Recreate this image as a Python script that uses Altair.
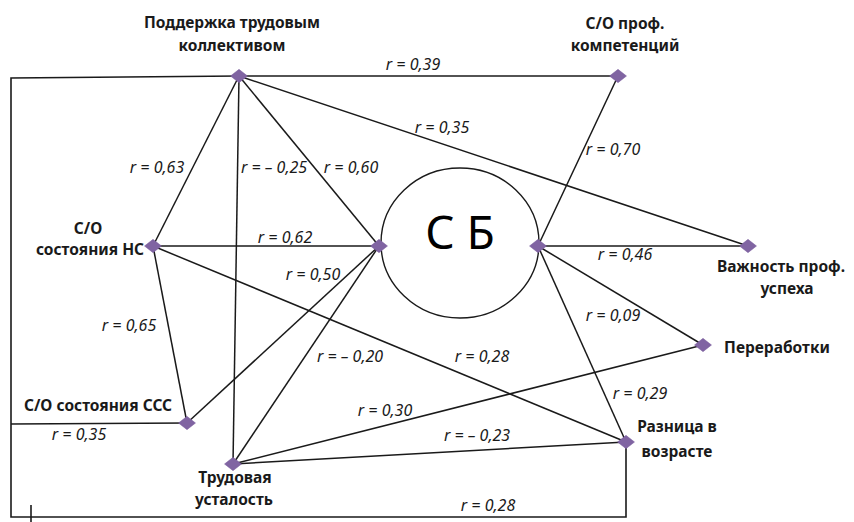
import altair as alt
import pandas as pd

# ---- nodes (diagram layout, reference pixel space) ----
node_ids = ["support", "competence", "ns", "sb_left", "sb_right",
            "importance", "overtime", "agediff", "ccc", "fatigue"]
node_x = [239, 618, 153, 379, 538, 748, 703, 626, 187, 233]
node_y = [76, 76, 246, 246, 246, 246, 345, 442, 423, 464]

# ---- correlations between nodes ----
edge_source = ["support", "support", "support", "support", "support",
               "ns", "ns", "ns", "ccc", "fatigue", "fatigue", "fatigue",
               "sb_right", "sb_right", "sb_right", "sb_right"]
edge_target = ["competence", "importance", "ns", "fatigue", "sb_left",
               "sb_left", "ccc", "agediff", "sb_left", "sb_left", "overtime", "agediff",
               "competence", "importance", "overtime", "agediff"]
edge_r = ["r = 0,39", "r = 0,35", "r = 0,63", "r = – 0,25", "r = 0,60",
          "r = 0,62", "r = 0,65", "r = 0,28", "r = 0,50", "r = – 0,20", "r = 0,30", "r = – 0,23",
          "r = 0,70", "r = 0,46", "r = 0,09", "r = 0,29"]
edge_label_x = [413, 442, 157, 274, 351, 285, 129, 482, 313, 350, 385, 477, 613, 625, 613, 640]
edge_label_y = [65, 128, 168, 168, 168, 238, 326, 357, 275, 357, 411, 436, 150, 255, 316, 394]

# ---- routed connectors (frame lines) ----
path_id = ["frame", "frame", "frame", "frame", "frame", "ccc_line", "ccc_line", "tick", "tick"]
path_x = [239, 11, 11, 626, 626, 11, 187, 31, 31]
path_y = [76, 78, 517, 517, 442, 424, 423, 505, 522]
path_r = ["r = 0,28", "r = 0,35"]
path_label_x = [488, 79]
path_label_y = [506, 435]

# ---- node captions ----
caption_text = ["Поддержка трудовым", "коллективом", "С/О проф.", "компетенций",
                "С/О", "состояния НС", "Важность проф.", "успеха", "Переработки",
                "Разница в", "возрасте", "С/О состояния ССС", "Трудовая", "усталость"]
caption_x = [232, 232, 625, 625, 88, 90, 781, 787, 777, 677, 677, 98, 235, 234]
caption_y = [23, 46, 24, 46, 229, 250, 267, 289, 348, 427, 452, 406, 478, 500]

center_text = ["С Б"]
center_x = [460]
center_y = [235]

# ---- build tables ----
pos = {n: (x, y) for n, x, y in zip(node_ids, node_x, node_y)}
nodes = pd.DataFrame({"id": node_ids, "x": node_x, "y": node_y})
edges = pd.DataFrame({
    "x": [pos[s][0] for s in edge_source],
    "y": [pos[s][1] for s in edge_source],
    "x2": [pos[t][0] for t in edge_target],
    "y2": [pos[t][1] for t in edge_target],
})
paths = pd.DataFrame({"path": path_id, "order": list(range(len(path_id))),
                      "x": path_x, "y": path_y})
rlabels = pd.DataFrame({"text": edge_r + path_r,
                        "x": edge_label_x + path_label_x,
                        "y": edge_label_y + path_label_y})
captions = pd.DataFrame({"text": caption_text, "x": caption_x, "y": caption_y})
center = pd.DataFrame({"text": center_text, "x": center_x, "y": center_y})

W, H = 838, 514
xs = alt.Scale(domain=[8, 8 + W], nice=False, zero=False)
ys = alt.Scale(domain=[8, 8 + H], nice=False, zero=False, reverse=True)
X = lambda f="x": alt.X(f"{f}:Q", scale=xs, axis=None)
Y = lambda f="y": alt.Y(f"{f}:Q", scale=ys, axis=None)

LINE = "#1a1a1a"

ellipse = alt.Chart(center).mark_point(
    shape="M -1 0 A 1 0.95 0 1 1 1 0 A 1 0.95 0 1 1 -1 0 Z",
    size=158 * 158, filled=False, stroke=LINE, strokeWidth=1.4, opacity=1
).encode(x=X(), y=Y(), yOffset=alt.value(8))

edge_layer = alt.Chart(edges).mark_rule(color=LINE, strokeWidth=1.5).encode(
    x=X(), y=Y(), x2="x2:Q", y2="y2:Q")

path_layer = alt.Chart(paths).mark_line(color=LINE, strokeWidth=1.6).encode(
    x=X(), y=Y(), detail="path:N", order="order:Q")

node_layer = alt.Chart(nodes).mark_point(
    shape="M -1 0 L 0 -0.78 L 1 0 L 0 0.78 Z", filled=True, size=17 * 17,
    color="#8064a2", opacity=1, stroke="#7a5e9e", strokeWidth=0.5
).encode(x=X(), y=Y())

r_layer = alt.Chart(rlabels).mark_text(
    font="Noto Sans", fontStyle="italic", fontSize=16, color="#1a1a1a",
    align="center", baseline="middle"
).encode(x=X(), y=Y(), text="text:N")

cap_layer = alt.Chart(captions).mark_text(
    font="Noto Sans", fontWeight="bold", fontSize=15.5, color="#1a1a1a",
    align="center", baseline="middle"
).encode(x=X(), y=Y(), text="text:N")

center_layer = alt.Chart(center).mark_text(
    font="Noto Sans", fontSize=46, color="#000000",
    align="center", baseline="middle"
).encode(x=X(), y=Y(), text="text:N")

chart = alt.layer(
    ellipse, path_layer, edge_layer, node_layer, r_layer, cap_layer, center_layer
).properties(width=W, height=H, padding=0, autosize=alt.AutoSizeParams(type="none")
).configure_view(stroke=None)

chart.save("out.html", embed_options={"renderer": "svg", "actions": False})
